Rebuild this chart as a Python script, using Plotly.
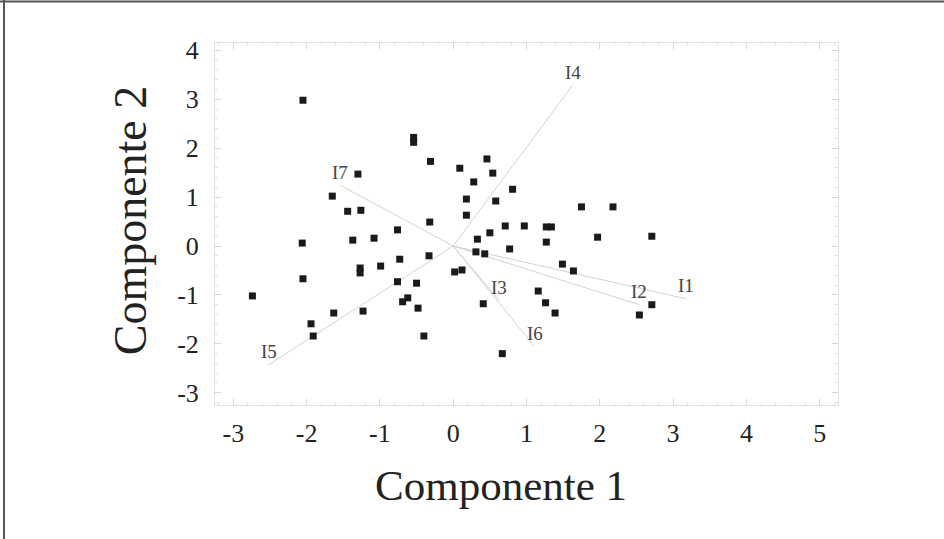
import plotly.graph_objects as go

# Scores (Componente 1, Componente 2)
comp1 = [-2.05, -0.54, -0.54, -0.31, 0.09, 0.46, 0.54, 0.28, 0.81, 0.18, 0.58, 0.18, 0.71,
         -1.30, -1.65, -1.44, -1.26, -0.76, -0.32, 1.75, 2.18, 0.97, 1.27, 1.34, 0.50, 0.33,
         1.97, 2.71, 1.27, 0.77, 0.31, 0.43, -2.06, -1.37, -1.08, -0.73, -0.33, -1.27, -1.27,
         -0.99, 0.02, 0.12, -2.05, -2.74, -0.76, -0.50, -0.69, -0.62, -0.48, 0.41, -1.63,
         -1.23, -1.94, -1.91, -0.40, 0.67, 1.49, 1.64, 1.16, 1.26, 1.39, 2.71, 2.54]
comp2 = [2.98, 2.22, 2.12, 1.73, 1.59, 1.78, 1.49, 1.31, 1.16, 0.96, 0.92, 0.63, 0.41,
         1.47, 1.02, 0.71, 0.73, 0.33, 0.49, 0.80, 0.80, 0.41, 0.39, 0.39, 0.27, 0.14,
         0.18, 0.20, 0.08, -0.06, -0.12, -0.16, 0.06, 0.12, 0.16, -0.27, -0.20, -0.45, -0.55,
         -0.41, -0.53, -0.49, -0.67, -1.02, -0.73, -0.76, -1.14, -1.06, -1.27, -1.18, -1.37,
         -1.33, -1.59, -1.84, -1.84, -2.20, -0.37, -0.51, -0.92, -1.16, -1.37, -1.20, -1.41]

# Loading vectors
vec_names = ["I1", "I2", "I3", "I4", "I5", "I6", "I7"]
vec_x = [3.18, 2.54, 0.63, 1.63, -2.52, 1.11, -1.54]
vec_y = [-1.08, -1.20, -1.12, 3.29, -2.43, -2.06, 1.24]

x_ticks = [-3, -2, -1, 0, 1, 2, 3, 4, 5]
y_ticks = [-3, -2, -1, 0, 1, 2, 3, 4]

fig = go.Figure()

for name, vx, vy in zip(vec_names, vec_x, vec_y):
    fig.add_trace(go.Scatter(x=[0, vx], y=[0, vy], mode="lines",
                             line=dict(color="#d2d2d2", width=1), showlegend=False,
                             hoverinfo="skip"))
    fig.add_annotation(x=vx, y=vy, text=name, showarrow=False, yshift=13,
                       font=dict(family="Liberation Serif", size=19, color="#444444"))

fig.add_trace(go.Scatter(x=comp1, y=comp2, mode="markers",
                         marker=dict(symbol="square", size=7, color="#1a1a1a"),
                         showlegend=False))

axis_common = dict(
    showgrid=False, zeroline=False, showline=True, linecolor="#e0e0e0", linewidth=1,
    mirror="allticks", ticks="inside", ticklen=6, tickcolor="#d5d5d5",
    tickfont=dict(family="Liberation Serif", size=26, color="#222222"),
    minor=dict(dtick=0.2, ticks="inside", ticklen=3, tickcolor="#e0e0e0"),
)

fig.update_xaxes(range=[-3.25, 5.25], tickvals=x_ticks, ticktext=[str(v) for v in x_ticks],
                 ticklabelstandoff=5, **axis_common)
fig.update_yaxes(range=[-3.25, 4.15], tickvals=y_ticks, ticktext=[str(v) for v in y_ticks],
                 ticklabelstandoff=10, **axis_common)

fig.add_annotation(xref="paper", yref="paper", x=0.459, y=-0.221, xanchor="center",
                   yanchor="middle", text="Componente 1", showarrow=False,
                   font=dict(family="Liberation Serif", size=43, color="#222222"))
fig.add_annotation(xref="paper", yref="paper", x=-0.136, y=0.511, xanchor="center",
                   yanchor="middle", text="Componente 2", showarrow=False, textangle=-90,
                   font=dict(family="Liberation Serif", size=46, color="#222222"))

# outer frame lines (left and top)
fig.add_shape(type="line", xref="paper", yref="paper", x0=-0.3387, x1=-0.3387, y0=-0.5, y1=1.2,
              line=dict(color="#555555", width=2))
fig.add_shape(type="line", xref="paper", yref="paper", x0=-0.4, x1=1.3, y0=1.1146, y1=1.1146,
              line=dict(color="#555555", width=2))

fig.update_layout(width=944, height=539, margin=dict(l=215, r=106, t=43, b=134),
                  plot_bgcolor="white", paper_bgcolor="white")

fig.write_html("out.html", config={"displayModeBar": False},
               post_script="document.body.style.margin='0';document.body.style.padding='0';")
